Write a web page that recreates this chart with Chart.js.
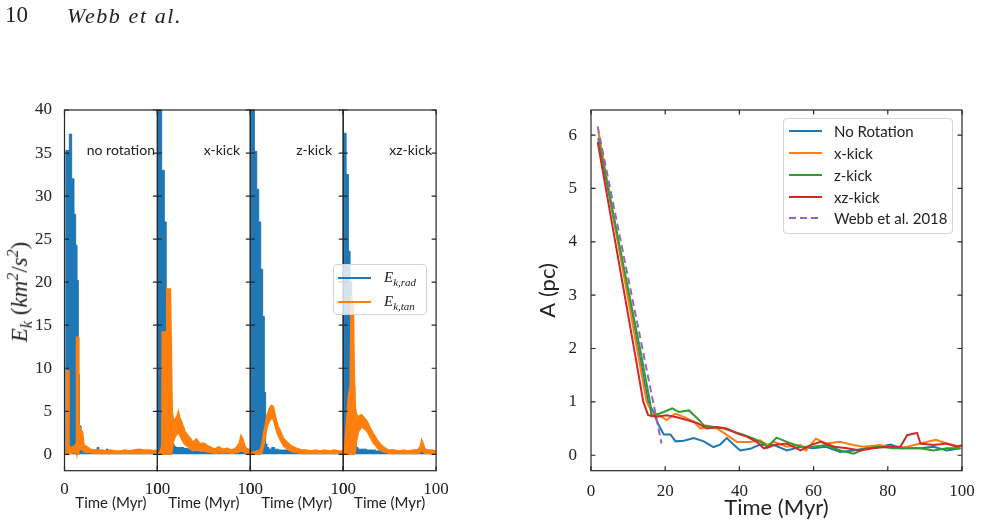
<!DOCTYPE html>
<html><head><meta charset="utf-8">
<script src="https://cdn.jsdelivr.net/npm/chart.js@4.4.1/dist/chart.umd.min.js"></script>
<style>
html,body{margin:0;padding:0;background:#fff;}
#wrap{position:relative;width:981px;height:527px;overflow:hidden;background:#fff;}
canvas.layer{position:absolute;left:0;top:0;}
.t{position:absolute;white-space:nowrap;color:#222;}
.sans{font-family:Lato,"DejaVu Sans",sans-serif;}
.serif{font-family:"Liberation Serif",serif;}
.leg{position:absolute;border:1px solid #d4d4d4;border-radius:4px;background:rgba(255,255,255,0.8);box-sizing:border-box;}
.ln{position:absolute;height:2px;}
</style></head><body>
<div id="wrap">
<canvas id="s0" class="layer" width="981" height="527"></canvas>
<canvas id="s1" class="layer" width="981" height="527"></canvas>
<canvas id="s2" class="layer" width="981" height="527"></canvas>
<canvas id="s3" class="layer" width="981" height="527"></canvas>
<canvas id="rA" class="layer" width="981" height="527"></canvas>

<div class="t serif" style="left:5px;top:2px;font-size:23px;">10</div>
<div class="t serif" style="left:67px;top:3px;font-size:22px;font-style:italic;letter-spacing:1.6px;">Webb et al.</div>

<div class="t serif" style="left:20px;top:292px;font-size:23px;font-style:italic;transform:translate(-50%,-50%) rotate(-90deg);">E<sub style="font-size:16px">k</sub> <span style="font-style:normal">(</span>km<sup style="font-size:16px">2</sup><span style="font-style:normal">/</span>s<sup style="font-size:16px">2</sup><span style="font-style:normal">)</span></div>

<div class="t sans" style="right:826px;top:149px;font-size:14px;transform:translateY(-50%);">no rotation</div>
<div class="t sans" style="right:741px;top:149px;font-size:14px;transform:translateY(-50%);">x-kick</div>
<div class="t sans" style="right:649px;top:149px;font-size:14px;transform:translateY(-50%);">z-kick</div>
<div class="t sans" style="right:549px;top:149px;font-size:14px;transform:translateY(-50%);">xz-kick</div>

<div class="leg" style="left:332.7px;top:264px;width:94.6px;height:51px;"></div>
<div class="ln" style="left:338.3px;top:276.7px;width:32.4px;background:#1f77b4;"></div>
<div class="ln" style="left:338.3px;top:300.7px;width:32.4px;background:#ff7f0e;"></div>
<div class="t serif" style="left:384px;top:278px;font-size:15px;font-style:italic;transform:translateY(-50%);">E<sub style="font-size:11px">k,rad</sub></div>
<div class="t serif" style="left:384px;top:302px;font-size:15px;font-style:italic;transform:translateY(-50%);">E<sub style="font-size:11px">k,tan</sub></div>

<div class="leg" style="left:782.7px;top:118.3px;width:170.6px;height:115.7px;"></div>
<div class="ln" style="left:789.3px;top:130px;width:32.7px;background:#1f77b4;"></div>
<div class="ln" style="left:789.3px;top:151.7px;width:32.7px;background:#ff7f0e;"></div>
<div class="ln" style="left:789.3px;top:173.7px;width:32.7px;background:#2ca02c;"></div>
<div class="ln" style="left:789.3px;top:195.7px;width:32.7px;background:#d62728;"></div>
<div class="ln" style="left:789.3px;top:217.3px;width:32.7px;background:repeating-linear-gradient(90deg,#9467bd 0 7px,transparent 7px 11px);"></div>
<div class="t sans" style="left:834px;top:131px;font-size:15px;transform:translateY(-50%);">No Rotation</div>
<div class="t sans" style="left:834px;top:152.7px;font-size:15px;transform:translateY(-50%);">x-kick</div>
<div class="t sans" style="left:834px;top:174.7px;font-size:15px;transform:translateY(-50%);">z-kick</div>
<div class="t sans" style="left:834px;top:196.7px;font-size:15px;transform:translateY(-50%);">xz-kick</div>
<div class="t sans" style="left:834px;top:218.3px;font-size:15px;transform:translateY(-50%);">Webb et al. 2018</div>
</div>
<script>
// ---------- data: left panel (E_k vs time, four runs) ----------
const nrRadT = [0, 1.5, 5.2, 7.7, 10.2, 12, 13.5, 14.9, 16, 17.8, 20, 25, 30, 35, 37, 40, 45, 47, 50, 55, 60, 65, 70, 75, 80, 85, 90, 92, 95, 100];
const nrRad  = [0, 35.3, 37.2, 32, 27.9, 24.3, 20.2, 9.3, 3.3, 0.9, 0.5, 0.4, 0.3, 0.8, 0.4, 0.3, 0.6, 0.3, 0.4, 0.3, 0.3, 0.4, 0.3, 0.5, 0.3, 0.4, 0.3, 0.5, 0.3, 0.3];
const nrTanT = [0, 2.2, 2.4, 4.5, 4.8, 7, 9, 11, 12.4, 12.9, 15, 15.5, 17, 19.6, 21, 24, 28, 33, 40, 45, 50, 55, 60, 65, 70, 75, 80, 85, 90, 95, 100];
const nrTanHi = [0, 0.5, 9.7, 9.7, 1.0, 0.8, 0.9, 1.0, 1.2, 13.6, 13.6, 3.5, 3.0, 2.5, 1.1, 0.9, 0.6, 0.5, 0.5, 0.4, 0.5, 0.4, 0.4, 0.5, 0.4, 0.5, 0.6, 0.5, 0.5, 0.4, 0.5];
const nrTanLo = [0, 0, 0, 0, 0, 0.1, 0.2, 0.2, 0.2, 0, 0, 0.3, 0.6, 0.5, 0.3, 0.2, 0.2, 0.1, 0.1, 0.1, 0.1, 0.1, 0.1, 0.1, 0.1, 0.1, 0.1, 0.1, 0.1, 0.1, 0.1];

const xkRadT = [0, 0.3, 4.6, 7.4, 9.5, 10.7, 12, 14, 16, 18, 20, 24, 28, 33, 38, 45, 50, 55, 60, 65, 70, 75, 80, 85, 90, 95, 100];
const xkRad  = [0, 45, 33, 27, 18, 1.0, 1.5, 2.0, 1.2, 0.9, 0.8, 0.8, 0.7, 0.6, 0.4, 0.4, 0.3, 0.3, 0.3, 0.3, 0.3, 0.3, 0.3, 0.3, 0.3, 0.3, 0.3];
const xkTanT = [0, 3, 4.8, 5.2, 9.5, 10, 14, 15, 16, 17, 19, 21, 22.5, 24, 26, 28, 30, 33, 36, 38, 42, 46, 50, 54, 58, 62, 66, 70, 75, 80, 85, 88, 90, 92, 94, 96, 100];
const xkTanHi = [0, 0.3, 1, 14.2, 14.2, 19.2, 19.2, 12, 5.0, 4.2, 4.0, 4.4, 5.0, 4.3, 3.8, 3.2, 2.6, 2.2, 1.8, 1.4, 1.8, 1.2, 1.3, 1.0, 0.8, 0.6, 0.9, 0.6, 0.7, 0.5, 0.8, 1.3, 2.2, 1.8, 1.0, 0.7, 0.5];
const xkTanLo = [0, 0, 0, 0, 0, 0, 0, 0, 0.5, 1.4, 2.0, 2.3, 2.6, 2.2, 1.8, 1.4, 1.1, 0.9, 0.6, 0.4, 0.6, 0.4, 0.4, 0.3, 0.2, 0.1, 0.2, 0.1, 0.2, 0.1, 0.2, 0.3, 0.5, 0.4, 0.2, 0.1, 0.1];

const zkRadT = [0, 0.9, 4.4, 6.9, 9.1, 11.2, 13.3, 15.1, 16.5, 18, 20, 23, 26, 30, 35, 40, 45, 50, 55, 60, 65, 70, 75, 80, 85, 90, 95, 100];
const zkRad  = [0, 45, 35.2, 30.8, 27, 21.5, 16, 7.2, 1.2, 0.8, 0.6, 0.8, 0.6, 0.5, 0.5, 0.4, 0.4, 0.3, 0.3, 0.3, 0.3, 0.3, 0.3, 0.3, 0.3, 0.3, 0.3, 0.3];
const zkTanT = [0, 5, 10.5, 12.4, 14.1, 15.9, 17.7, 19.5, 21.3, 23, 24.9, 26.7, 28.5, 30.3, 32.1, 35.6, 39, 42.8, 46, 50, 55, 60, 65, 70, 75, 80, 85, 90, 95, 100];
const zkTanHi = [0.2, 0.3, 0.5, 1.2, 2.4, 3.3, 4.5, 5.0, 5.5, 5.7, 5.5, 4.6, 3.8, 3.2, 2.8, 1.9, 1.5, 1.1, 0.9, 0.7, 0.5, 0.5, 0.4, 0.5, 0.4, 0.5, 0.4, 0.5, 0.4, 0.4];
const zkTanLo = [0, 0, 0, 0.2, 0.8, 1.8, 3.0, 3.6, 4.0, 4.2, 4.0, 3.3, 2.6, 2.1, 1.7, 1.0, 0.7, 0.4, 0.3, 0.2, 0.1, 0.1, 0.1, 0.1, 0.1, 0.1, 0.1, 0.1, 0.1, 0.1];

const xzRadT = [0, 1, 3.1, 5.6, 7.4, 9.2, 11, 12.5, 14, 16, 20, 25, 30, 35, 40, 45, 50, 55, 60, 65, 70, 75, 80, 85, 90, 95, 100];
const xzRad  = [0, 37.3, 32.5, 23.6, 20, 16.5, 8, 2, 0.8, 0.6, 0.6, 0.5, 0.5, 0.4, 0.4, 0.3, 0.3, 0.3, 0.3, 0.3, 0.3, 0.3, 0.3, 0.6, 0.3, 0.3, 0.3];
const xzTanT = [0, 1.3, 3, 5.6, 7.5, 8.5, 11, 12, 13, 14.5, 16.4, 20, 23.6, 26, 28, 30, 32.5, 35, 37, 40, 43, 47, 50, 55, 60, 65, 70, 75, 80, 82.8, 84.5, 86.3, 88, 90, 95, 100];
const xzTanHi = [0, 0.5, 3, 6.8, 8, 18.5, 17, 9, 5.5, 4.6, 4.4, 4.6, 4.1, 3.8, 3.3, 2.9, 2.4, 2.0, 1.6, 1.2, 0.9, 0.6, 0.5, 0.5, 0.4, 0.5, 0.4, 0.5, 0.5, 0.9, 1.7, 1.2, 0.6, 0.5, 0.5, 0.4];
const xzTanLo = [0, 0, 0, 0, 0, 0, 0, 0, 0.3, 1.6, 2.6, 3.2, 2.9, 2.6, 2.2, 1.8, 1.3, 1.0, 0.7, 0.5, 0.3, 0.2, 0.1, 0.1, 0.1, 0.1, 0.1, 0.1, 0.1, 0.2, 0.4, 0.3, 0.1, 0.1, 0.1, 0.1];

const leftXTicks = [0, 100];
const leftYTicks = [0, 5, 10, 15, 20, 25, 30, 35, 40];

// ---------- data: right panel (A vs time) ----------
const nrAT = [2, 12.7, 15.4, 16.8, 18.2, 19.6, 21.4, 22.8, 25, 27.7, 30.4, 33, 34.8, 36.6, 38.4, 40.2, 42.9, 45.6, 49.3, 52.8, 56.5, 59.8, 63.3, 67.2, 70.7, 74.2, 77.9, 80.7, 83.4, 88.8, 92.3, 95.9, 99.6];
const nrA  = [5.95, 2, 1, 0.81, 0.57, 0.39, 0.39, 0.26, 0.27, 0.32, 0.26, 0.15, 0.2, 0.32, 0.2, 0.09, 0.12, 0.2, 0.19, 0.09, 0.16, 0.13, 0.16, 0.06, 0.09, 0.13, 0.16, 0.2, 0.13, 0.13, 0.16, 0.09, 0.13];
const xkAT = [2, 12.4, 15, 16.6, 18.2, 20.4, 22.7, 25, 27.7, 29.5, 31.3, 34, 36.6, 39.3, 42.9, 45.6, 47.5, 49.3, 52.8, 56.5, 58, 60.6, 63.3, 67, 70.7, 73.5, 77.9, 81.5, 85.2, 88.8, 92.9, 95.9, 99.6];
const xkA  = [6.06, 2, 1, 0.78, 0.75, 0.66, 0.78, 0.72, 0.63, 0.5, 0.53, 0.5, 0.38, 0.25, 0.25, 0.28, 0.19, 0.25, 0.16, 0.19, 0.09, 0.31, 0.22, 0.25, 0.19, 0.16, 0.19, 0.13, 0.16, 0.22, 0.29, 0.22, 0.16];
const zkAT = [2, 13.2, 15.9, 16.3, 19.6, 21.9, 23.7, 26.4, 28.7, 30.4, 33.1, 35.8, 38.5, 41.2, 43.9, 46.6, 47.5, 50, 52.8, 56.5, 59.8, 63.3, 67.2, 70.8, 74.2, 77.9, 81.5, 85.2, 88.8, 92.3, 95.9, 99.6];
const zkA  = [5.92, 2, 1, 0.73, 0.81, 0.88, 0.81, 0.84, 0.69, 0.56, 0.53, 0.5, 0.44, 0.38, 0.31, 0.22, 0.15, 0.33, 0.25, 0.16, 0.16, 0.19, 0.09, 0.03, 0.13, 0.16, 0.13, 0.13, 0.13, 0.09, 0.13, 0.13];
const xzAT = [1.8, 11.6, 14.1, 15.4, 17.7, 20.4, 23.1, 25.9, 28.7, 31.3, 34, 36.6, 39.3, 42, 44.7, 46.6, 47.9, 49.3, 52.8, 56.5, 59.2, 61.9, 65.6, 69, 72.6, 76, 80, 83.4, 85.2, 87.9, 88.8, 92.3, 95.9, 98.5, 100];
const xzA  = [5.87, 2, 1, 0.75, 0.72, 0.75, 0.71, 0.66, 0.6, 0.5, 0.53, 0.5, 0.41, 0.35, 0.25, 0.13, 0.15, 0.19, 0.22, 0.09, 0.19, 0.25, 0.16, 0.13, 0.09, 0.13, 0.16, 0.16, 0.375, 0.42, 0.22, 0.19, 0.22, 0.16, 0.19];
const wbT  = [1.8, 19];
const wbA  = [6.16, 0.22];

const rightXTicks = [0, 20, 40, 60, 80, 100];
const rightYTicks = [0, 1, 2, 3, 4, 5, 6];

// ---------- drawing ----------
const BLUE = '#1f77b4', ORANGE = '#ff7f0e', GREEN = '#2ca02c', RED = '#d62728', PURPLE = '#9467bd';
const TXT = '#222';
const SERIF = '"Liberation Serif", serif';
const SANS = 'Lato, "DejaVu Sans", sans-serif';
const pts = (t, v) => t.map((x, i) => ({x, y: v[i]}));

const framePlugin = {
  id: 'frame',
  afterDraw(chart, args, o) {
    const {ctx, chartArea: a, scales: {x, y}} = chart;
    ctx.save();
    ctx.strokeStyle = '#262626';
    ctx.lineWidth = 1.2;
    ctx.strokeRect(a.left, a.top, a.right - a.left, a.bottom - a.top);
    ctx.beginPath();
    const L = 4.5;
    for (const v of o.yt) { const p = y.getPixelForValue(v); ctx.moveTo(a.left, p); ctx.lineTo(a.left + L, p); ctx.moveTo(a.right, p); ctx.lineTo(a.right - L, p); }
    for (const v of o.xt) { const p = x.getPixelForValue(v); ctx.moveTo(p, a.bottom); ctx.lineTo(p, a.bottom - L); ctx.moveTo(p, a.top); ctx.lineTo(p, a.top + L); }
    ctx.stroke();
    ctx.restore();
  }
};

const LX0 = 64.5, LW = 92.9, TOP = 110, BOT = 470.7, H = 527;

function leftChart(id, k, radT, rad, tanT, tanHi, tanLo) {
  const x0 = LX0 + k * LW, x1 = x0 + LW, first = (k === 0), YW = 50;
  return new Chart(document.getElementById(id), {
    type: 'line',
    data: {datasets: [
      {label: 'tanHi', data: pts(tanT, tanHi), borderColor: ORANGE, backgroundColor: ORANGE, borderWidth: 1.5, fill: {target: 1}, pointRadius: 0, tension: 0, order: 0, clip: 0},
      {label: 'tanLo', data: pts(tanT, tanLo), borderColor: ORANGE, backgroundColor: ORANGE, borderWidth: 1.5, fill: false, pointRadius: 0, tension: 0, order: 1, clip: 0},
      {label: 'rad', data: pts(radT, rad), borderColor: BLUE, backgroundColor: BLUE, borderWidth: 1, fill: 'origin', stepped: 'before', pointRadius: 0, order: 2, clip: 0}
    ]},
    options: {
      responsive: false, animation: false, devicePixelRatio: 1, events: [],
      layout: {padding: {left: first ? x0 - YW : x0, right: 981 - x1, top: TOP, bottom: 0}},
      plugins: {legend: {display: false}, tooltip: {enabled: false}, frame: {xt: leftXTicks, yt: leftYTicks}},
      scales: {
        x: {type: 'linear', min: 0, max: 100, grid: {display: false}, border: {display: false},
            afterBuildTicks: s => { s.ticks = leftXTicks.map(v => ({value: v})); },
            afterFit: s => { s.height = H - BOT; },
            ticks: {color: TXT, font: {family: SERIF, size: 17}, padding: 1, maxRotation: 0, autoSkip: false},
            title: {display: true, text: 'Time (Myr)', color: TXT, font: {family: SANS, size: 15}, padding: {top: 0, bottom: 15}}},
        y: {type: 'linear', min: -1.9, max: 40, display: first, grid: {display: false}, border: {display: false},
            afterBuildTicks: s => { s.ticks = leftYTicks.map(v => ({value: v})); },
            afterFit: s => { s.width = first ? YW : 0; },
            ticks: {color: TXT, font: {family: SERIF, size: 17}, padding: 4.5}}
      }
    },
    plugins: [framePlugin]
  });
}

leftChart('s0', 0, nrRadT, nrRad, nrTanT, nrTanHi, nrTanLo);
leftChart('s1', 1, xkRadT, xkRad, xkTanT, xkTanHi, xkTanLo);
leftChart('s2', 2, zkRadT, zkRad, zkTanT, zkTanHi, zkTanLo);
leftChart('s3', 3, xzRadT, xzRad, xzTanT, xzTanHi, xzTanLo);

const RX0 = 591, RX1 = 962, RYW = 61;
const lineDs = (label, t, v, color, order, extra) => Object.assign({label, data: pts(t, v), borderColor: color, backgroundColor: color, borderWidth: 2, pointRadius: 0, tension: 0, fill: false, order, clip: 0}, extra || {});
new Chart(document.getElementById('rA'), {
  type: 'line',
  data: {datasets: [
    lineDs('No Rotation', nrAT, nrA, BLUE, 4),
    lineDs('x-kick', xkAT, xkA, ORANGE, 3),
    lineDs('z-kick', zkAT, zkA, GREEN, 2),
    lineDs('xz-kick', xzAT, xzA, RED, 1),
    lineDs('Webb et al. 2018', wbT, wbA, PURPLE, 0, {borderDash: [7, 4]})
  ]},
  options: {
    responsive: false, animation: false, devicePixelRatio: 1, events: [],
    layout: {padding: {left: RX0 - RYW, right: 981 - RX1, top: TOP, bottom: 0}},
    plugins: {legend: {display: false}, tooltip: {enabled: false}, frame: {xt: rightXTicks, yt: rightYTicks}},
    scales: {
      x: {type: 'linear', min: 0, max: 100, grid: {display: false}, border: {display: false},
          afterBuildTicks: s => { s.ticks = rightXTicks.map(v => ({value: v})); },
          afterFit: s => { s.height = H - BOT; },
          ticks: {color: TXT, font: {family: SERIF, size: 17}, padding: 3, maxRotation: 0, autoSkip: false},
          title: {display: true, text: 'Time (Myr)', color: TXT, font: {family: SANS, size: 22}, padding: {top: 0, bottom: 5.8}}},
      y: {type: 'linear', min: -0.29, max: 6.47, grid: {display: false}, border: {display: false},
          afterBuildTicks: s => { s.ticks = rightYTicks.map(v => ({value: v})); },
          afterFit: s => { s.width = RYW; },
          ticks: {color: TXT, font: {family: SERIF, size: 17}, padding: 6},
          title: {display: true, text: 'A (pc)', color: TXT, font: {family: SANS, size: 22}, padding: {top: 4.8, bottom: 0}}}
    }
  },
  plugins: [framePlugin]
});
</script>
</body></html>
